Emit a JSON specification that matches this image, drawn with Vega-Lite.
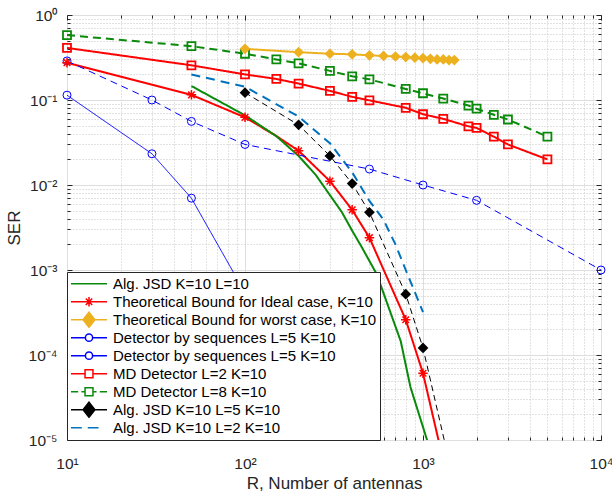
{
  "$schema": "https://vega.github.io/schema/vega-lite/v6.json",
  "width": 534,
  "height": 425,
  "autosize": {"type": "none"},
  "padding": {"left": 67, "top": 15, "right": 11, "bottom": 55},
  "background": "white",
  "config": {
    "font": "Liberation Sans",
    "view": {"stroke": "#262626", "strokeWidth": 1},
    "axis": {
      "domain": false,
      "labelFont": "Liberation Sans",
      "labelColor": "#262626",
      "tickColor": "#262626",
      "tickWidth": 1,
      "titleFont": "Liberation Sans",
      "titleFontWeight": "normal",
      "titleColor": "#262626",
      "labelFlush": false,
      "labelOverlap": false,
      "labelBound": false
    },
    "legend": {
      "orient": "bottom-left",
      "offset": 0,
      "padding": 3,
      "fillColor": "white",
      "strokeColor": "#262626",
      "strokeWidth": 1,
      "symbolSize": 1296,
      "clipHeight": 17.4,
      "rowPadding": 0,
      "labelFont": "Liberation Sans",
      "labelFontSize": 15,
      "labelColor": "#000000",
      "labelOffset": 5,
      "labelLimit": 400,
      "symbolStrokeWidth": 1.5,
      "symbolOpacity": 1
    }
  },
  "data": {
    "values": [
      {"series": "MD Detector L=8 K=10", "R": 10, "SER": 0.58},
      {"series": "MD Detector L=8 K=10", "R": 50, "SER": 0.43},
      {"series": "MD Detector L=8 K=10", "R": 100, "SER": 0.35},
      {"series": "MD Detector L=8 K=10", "R": 150, "SER": 0.30},
      {"series": "MD Detector L=8 K=10", "R": 200, "SER": 0.27},
      {"series": "MD Detector L=8 K=10", "R": 300, "SER": 0.22},
      {"series": "MD Detector L=8 K=10", "R": 400, "SER": 0.19},
      {"series": "MD Detector L=8 K=10", "R": 500, "SER": 0.175},
      {"series": "MD Detector L=8 K=10", "R": 800, "SER": 0.135},
      {"series": "MD Detector L=8 K=10", "R": 1000, "SER": 0.12},
      {"series": "MD Detector L=8 K=10", "R": 1300, "SER": 0.104},
      {"series": "MD Detector L=8 K=10", "R": 1800, "SER": 0.086},
      {"series": "MD Detector L=8 K=10", "R": 2000, "SER": 0.079},
      {"series": "MD Detector L=8 K=10", "R": 2500, "SER": 0.067},
      {"series": "MD Detector L=8 K=10", "R": 3000, "SER": 0.059},
      {"series": "MD Detector L=8 K=10", "R": 5000, "SER": 0.037},
      {"series": "MD Detector L=2 K=10", "R": 10, "SER": 0.41},
      {"series": "MD Detector L=2 K=10", "R": 50, "SER": 0.256},
      {"series": "MD Detector L=2 K=10", "R": 100, "SER": 0.20},
      {"series": "MD Detector L=2 K=10", "R": 150, "SER": 0.177},
      {"series": "MD Detector L=2 K=10", "R": 200, "SER": 0.156},
      {"series": "MD Detector L=2 K=10", "R": 300, "SER": 0.128},
      {"series": "MD Detector L=2 K=10", "R": 400, "SER": 0.109},
      {"series": "MD Detector L=2 K=10", "R": 500, "SER": 0.099},
      {"series": "MD Detector L=2 K=10", "R": 800, "SER": 0.081},
      {"series": "MD Detector L=2 K=10", "R": 1000, "SER": 0.068},
      {"series": "MD Detector L=2 K=10", "R": 1300, "SER": 0.060},
      {"series": "MD Detector L=2 K=10", "R": 1800, "SER": 0.049},
      {"series": "MD Detector L=2 K=10", "R": 2000, "SER": 0.047},
      {"series": "MD Detector L=2 K=10", "R": 2500, "SER": 0.037},
      {"series": "MD Detector L=2 K=10", "R": 3000, "SER": 0.030},
      {"series": "MD Detector L=2 K=10", "R": 5000, "SER": 0.020},
      {"series": "Theoretical Bound for worst case, K=10", "R": 100, "SER": 0.40},
      {"series": "Theoretical Bound for worst case, K=10", "R": 200, "SER": 0.365},
      {"series": "Theoretical Bound for worst case, K=10", "R": 300, "SER": 0.35},
      {"series": "Theoretical Bound for worst case, K=10", "R": 400, "SER": 0.345},
      {"series": "Theoretical Bound for worst case, K=10", "R": 500, "SER": 0.335},
      {"series": "Theoretical Bound for worst case, K=10", "R": 600, "SER": 0.33},
      {"series": "Theoretical Bound for worst case, K=10", "R": 700, "SER": 0.325},
      {"series": "Theoretical Bound for worst case, K=10", "R": 800, "SER": 0.32},
      {"series": "Theoretical Bound for worst case, K=10", "R": 900, "SER": 0.315},
      {"series": "Theoretical Bound for worst case, K=10", "R": 1000, "SER": 0.31},
      {"series": "Theoretical Bound for worst case, K=10", "R": 1100, "SER": 0.305},
      {"series": "Theoretical Bound for worst case, K=10", "R": 1200, "SER": 0.30},
      {"series": "Theoretical Bound for worst case, K=10", "R": 1300, "SER": 0.30},
      {"series": "Theoretical Bound for worst case, K=10", "R": 1400, "SER": 0.295},
      {"series": "Theoretical Bound for worst case, K=10", "R": 1500, "SER": 0.295},
      {"series": "Detector by sequences L=5 K=10", "R": 10, "SER": 0.114},
      {"series": "Detector by sequences L=5 K=10", "R": 30, "SER": 0.0233},
      {"series": "Detector by sequences L=5 K=10", "R": 50, "SER": 0.0070},
      {"series": "Detector by sequences L=5 K=10", "R": 100, "SER": 0.00054},
      {"series": "Detector by sequences L=5 K=10 ", "R": 10, "SER": 0.288},
      {"series": "Detector by sequences L=5 K=10 ", "R": 30, "SER": 0.1},
      {"series": "Detector by sequences L=5 K=10 ", "R": 50, "SER": 0.056},
      {"series": "Detector by sequences L=5 K=10 ", "R": 100, "SER": 0.030},
      {"series": "Detector by sequences L=5 K=10 ", "R": 500, "SER": 0.0154},
      {"series": "Detector by sequences L=5 K=10 ", "R": 1000, "SER": 0.010},
      {"series": "Detector by sequences L=5 K=10 ", "R": 2000, "SER": 0.0066},
      {"series": "Detector by sequences L=5 K=10 ", "R": 10000, "SER": 0.001},
      {"series": "Theoretical Bound for Ideal case, K=10", "R": 10, "SER": 0.275},
      {"series": "Theoretical Bound for Ideal case, K=10", "R": 50, "SER": 0.115},
      {"series": "Theoretical Bound for Ideal case, K=10", "R": 100, "SER": 0.0625},
      {"series": "Theoretical Bound for Ideal case, K=10", "R": 150, "SER": 0.0377},
      {"series": "Theoretical Bound for Ideal case, K=10", "R": 200, "SER": 0.0253},
      {"series": "Theoretical Bound for Ideal case, K=10", "R": 300, "SER": 0.0111},
      {"series": "Theoretical Bound for Ideal case, K=10", "R": 400, "SER": 0.0051},
      {"series": "Theoretical Bound for Ideal case, K=10", "R": 500, "SER": 0.0024},
      {"series": "Theoretical Bound for Ideal case, K=10", "R": 800, "SER": 0.00026},
      {"series": "Theoretical Bound for Ideal case, K=10", "R": 1000, "SER": 0.000061},
      {"series": "Theoretical Bound for Ideal case, K=10", "R": 1300, "SER": 0.0000057},
      {"series": "Alg. JSD K=10 L=10", "R": 50, "SER": 0.146},
      {"series": "Alg. JSD K=10 L=10", "R": 100, "SER": 0.066},
      {"series": "Alg. JSD K=10 L=10", "R": 150, "SER": 0.0375},
      {"series": "Alg. JSD K=10 L=10", "R": 200, "SER": 0.022},
      {"series": "Alg. JSD K=10 L=10", "R": 250, "SER": 0.0131},
      {"series": "Alg. JSD K=10 L=10", "R": 300, "SER": 0.0076},
      {"series": "Alg. JSD K=10 L=10", "R": 350, "SER": 0.0048},
      {"series": "Alg. JSD K=10 L=10", "R": 400, "SER": 0.0029},
      {"series": "Alg. JSD K=10 L=10", "R": 450, "SER": 0.0019},
      {"series": "Alg. JSD K=10 L=10", "R": 550, "SER": 0.00089},
      {"series": "Alg. JSD K=10 L=10", "R": 750, "SER": 0.000145},
      {"series": "Alg. JSD K=10 L=10", "R": 850, "SER": 0.000042},
      {"series": "Alg. JSD K=10 L=10", "R": 1100, "SER": 0.0000075},
      {"series": "Alg. JSD K=10 L=5 K=10", "R": 100, "SER": 0.122},
      {"series": "Alg. JSD K=10 L=5 K=10", "R": 200, "SER": 0.051},
      {"series": "Alg. JSD K=10 L=5 K=10", "R": 300, "SER": 0.022},
      {"series": "Alg. JSD K=10 L=5 K=10", "R": 400, "SER": 0.0104},
      {"series": "Alg. JSD K=10 L=5 K=10", "R": 500, "SER": 0.00477},
      {"series": "Alg. JSD K=10 L=5 K=10", "R": 800, "SER": 0.00052},
      {"series": "Alg. JSD K=10 L=5 K=10", "R": 1000, "SER": 0.000121},
      {"series": "Alg. JSD K=10 L=5 K=10", "R": 1400, "SER": 0.0000057},
      {"series": "Alg. JSD K=10 L=2 K=10", "R": 50, "SER": 0.20},
      {"series": "Alg. JSD K=10 L=2 K=10", "R": 100, "SER": 0.143},
      {"series": "Alg. JSD K=10 L=2 K=10", "R": 200, "SER": 0.064},
      {"series": "Alg. JSD K=10 L=2 K=10", "R": 300, "SER": 0.031},
      {"series": "Alg. JSD K=10 L=2 K=10", "R": 400, "SER": 0.0141},
      {"series": "Alg. JSD K=10 L=2 K=10", "R": 500, "SER": 0.0065},
      {"series": "Alg. JSD K=10 L=2 K=10", "R": 600, "SER": 0.0039},
      {"series": "Alg. JSD K=10 L=2 K=10", "R": 700, "SER": 0.0020},
      {"series": "Alg. JSD K=10 L=2 K=10", "R": 800, "SER": 0.0010},
      {"series": "Alg. JSD K=10 L=2 K=10", "R": 1000, "SER": 0.00032}
    ]
  },
  "resolve": {"axis": {"x": "independent", "y": "independent"}},
  "layer": [
    {
      "transform": [{"filter": {"field": "series", "oneOf": ["Alg. JSD K=10 L=10", "Theoretical Bound for Ideal case, K=10", "Theoretical Bound for worst case, K=10", "MD Detector L=2 K=10", "MD Detector L=8 K=10", "Alg. JSD K=10 L=2 K=10"]}}],
      "mark": {"type": "line", "strokeWidth": 2, "clip": true},
      "encoding": {
        "x": {"field": "R", "type": "quantitative",
          "scale": {"type": "log", "domain": [10, 10000], "nice": false},
          "axis": {"orient": "bottom", "values": [10, 100, 1000, 10000],
            "labelExpr": "datum.value < 50 ? '10¹' : datum.value < 500 ? '10²' : datum.value < 5000 ? '10³' : '10⁴'",
            "grid": true, "gridColor": "#dedede", "gridWidth": 1,
            "tickSize": -5, "labelPadding": 21, "labelBaseline": "top", "labelFontSize": 15.5,
            "title": "R, Number of antennas", "titleFontSize": 17, "titlePadding": 4}},
        "y": {"field": "SER", "type": "quantitative",
          "scale": {"type": "log", "domain": [0.00001, 1], "nice": false},
          "axis": {"orient": "left", "values": [0.00001, 0.0001, 0.001, 0.01, 0.1, 1],
            "labelExpr": "datum.value > 0.5 ? '10⁰' : datum.value > 0.05 ? '10⁻¹' : datum.value > 0.005 ? '10⁻²' : datum.value > 0.0005 ? '10⁻³' : datum.value > 0.00005 ? '10⁻⁴' : '10⁻⁵'",
            "grid": true, "gridColor": "#dedede", "gridWidth": 1,
            "tickSize": -5, "labelPadding": 15, "labelFontSize": 15.5, "labelDy": 2,
            "title": "SER", "titleFontSize": 17, "titlePadding": 5}},
        "color": {"field": "series", "type": "nominal", "legend": null,
          "scale": {"domain": ["Alg. JSD K=10 L=2 K=10", "Alg. JSD K=10 L=5 K=10", "MD Detector L=8 K=10", "MD Detector L=2 K=10", "Detector by sequences L=5 K=10 ", "Detector by sequences L=5 K=10", "Theoretical Bound for worst case, K=10", "Theoretical Bound for Ideal case, K=10", "Alg. JSD K=10 L=10"],
            "range": ["#0072bd", "#000000", "#0a8a0a", "#ff0000", "#0000ff", "#0000ff", "#edb120", "#ff0000", "#0a8a0a"]}},
        "strokeDash": {"field": "series", "type": "nominal", "legend": null,
          "scale": {"domain": ["Alg. JSD K=10 L=2 K=10", "Alg. JSD K=10 L=5 K=10", "MD Detector L=8 K=10", "MD Detector L=2 K=10", "Detector by sequences L=5 K=10 ", "Detector by sequences L=5 K=10", "Theoretical Bound for worst case, K=10", "Theoretical Bound for Ideal case, K=10", "Alg. JSD K=10 L=10"],
            "range": [[9, 6], [6, 4], [8, 5], [1, 0], [7, 5], [1, 0], [1, 0], [1, 0], [1, 0]]}}
      }
    },
    {
      "transform": [{"filter": {"field": "series", "oneOf": ["Detector by sequences L=5 K=10", "Detector by sequences L=5 K=10 ", "Alg. JSD K=10 L=5 K=10"]}}],
      "mark": {"type": "line", "strokeWidth": 1, "clip": true},
      "encoding": {
        "x": {"field": "R", "type": "quantitative",
          "scale": {"type": "log", "domain": [10, 10000], "nice": false},
          "axis": {"orient": "bottom", "values": [20, 30, 40, 50, 60, 70, 80, 90, 200, 300, 400, 500, 600, 700, 800, 900, 2000, 3000, 4000, 5000, 6000, 7000, 8000, 9000],
            "grid": true, "gridColor": "#c4c4c4", "gridDash": [1, 2], "gridWidth": 1,
            "tickSize": -3, "labels": false, "title": null}},
        "y": {"field": "SER", "type": "quantitative",
          "scale": {"type": "log", "domain": [0.00001, 1], "nice": false},
          "axis": {"orient": "left", "values": [0.00002, 0.00003, 0.00004, 0.00005, 0.00006, 0.00007, 0.00008, 0.00009, 0.0002, 0.0003, 0.0004, 0.0005, 0.0006, 0.0007, 0.0008, 0.0009, 0.002, 0.003, 0.004, 0.005, 0.006, 0.007, 0.008, 0.009, 0.02, 0.03, 0.04, 0.05, 0.06, 0.07, 0.08, 0.09, 0.2, 0.3, 0.4, 0.5, 0.6, 0.7, 0.8, 0.9],
            "grid": true, "gridColor": "#c4c4c4", "gridDash": [1, 2], "gridWidth": 1,
            "tickSize": -3, "labels": false, "title": null}},
        "color": {"field": "series", "type": "nominal", "legend": null,
          "scale": {"domain": ["Alg. JSD K=10 L=2 K=10", "Alg. JSD K=10 L=5 K=10", "MD Detector L=8 K=10", "MD Detector L=2 K=10", "Detector by sequences L=5 K=10 ", "Detector by sequences L=5 K=10", "Theoretical Bound for worst case, K=10", "Theoretical Bound for Ideal case, K=10", "Alg. JSD K=10 L=10"],
            "range": ["#0072bd", "#000000", "#0a8a0a", "#ff0000", "#0000ff", "#0000ff", "#edb120", "#ff0000", "#0a8a0a"]}},
        "strokeDash": {"field": "series", "type": "nominal", "legend": null,
          "scale": {"domain": ["Alg. JSD K=10 L=2 K=10", "Alg. JSD K=10 L=5 K=10", "MD Detector L=8 K=10", "MD Detector L=2 K=10", "Detector by sequences L=5 K=10 ", "Detector by sequences L=5 K=10", "Theoretical Bound for worst case, K=10", "Theoretical Bound for Ideal case, K=10", "Alg. JSD K=10 L=10"],
            "range": [[9, 6], [6, 4], [8, 5], [1, 0], [7, 5], [1, 0], [1, 0], [1, 0], [1, 0]]}}
      }
    },
    {
      "transform": [{"filter": {"field": "series", "oneOf": ["MD Detector L=2 K=10", "MD Detector L=8 K=10"]}}],
      "mark": {"type": "point", "shape": "square", "filled": false, "size": 64, "strokeWidth": 1.8, "opacity": 1},
      "encoding": {
        "x": {"field": "R", "type": "quantitative",
          "scale": {"type": "log", "domain": [10, 10000], "nice": false},
          "axis": {"orient": "top", "values": [10, 100, 1000, 10000], "grid": false, "tickSize": -5, "labels": false, "title": null}},
        "y": {"field": "SER", "type": "quantitative",
          "scale": {"type": "log", "domain": [0.00001, 1], "nice": false},
          "axis": {"orient": "right", "values": [0.00001, 0.0001, 0.001, 0.01, 0.1, 1], "grid": false, "tickSize": -5, "labels": false, "title": null}},
        "color": {"field": "series", "type": "nominal", "legend": null,
          "scale": {"domain": ["Alg. JSD K=10 L=2 K=10", "Alg. JSD K=10 L=5 K=10", "MD Detector L=8 K=10", "MD Detector L=2 K=10", "Detector by sequences L=5 K=10 ", "Detector by sequences L=5 K=10", "Theoretical Bound for worst case, K=10", "Theoretical Bound for Ideal case, K=10", "Alg. JSD K=10 L=10"],
            "range": ["#0072bd", "#000000", "#0a8a0a", "#ff0000", "#0000ff", "#0000ff", "#edb120", "#ff0000", "#0a8a0a"]}}
      }
    },
    {
      "transform": [
        {"filter": {"field": "series", "oneOf": ["Theoretical Bound for worst case, K=10", "Alg. JSD K=10 L=5 K=10"]}},
        {"filter": {"field": "SER", "gte": 0.00001}}
      ],
      "mark": {"type": "point", "shape": "diamond", "filled": true, "size": 115, "opacity": 1},
      "encoding": {
        "x": {"field": "R", "type": "quantitative",
          "scale": {"type": "log", "domain": [10, 10000], "nice": false},
          "axis": {"orient": "top", "values": [20, 30, 40, 50, 60, 70, 80, 90, 200, 300, 400, 500, 600, 700, 800, 900, 2000, 3000, 4000, 5000, 6000, 7000, 8000, 9000], "grid": false, "tickSize": -3, "labels": false, "title": null}},
        "y": {"field": "SER", "type": "quantitative",
          "scale": {"type": "log", "domain": [0.00001, 1], "nice": false},
          "axis": {"orient": "right", "values": [0.00002, 0.00003, 0.00004, 0.00005, 0.00006, 0.00007, 0.00008, 0.00009, 0.0002, 0.0003, 0.0004, 0.0005, 0.0006, 0.0007, 0.0008, 0.0009, 0.002, 0.003, 0.004, 0.005, 0.006, 0.007, 0.008, 0.009, 0.02, 0.03, 0.04, 0.05, 0.06, 0.07, 0.08, 0.09, 0.2, 0.3, 0.4, 0.5, 0.6, 0.7, 0.8, 0.9], "grid": false, "tickSize": -3, "labels": false, "title": null}},
        "color": {"field": "series", "type": "nominal", "legend": null,
          "scale": {"domain": ["Alg. JSD K=10 L=2 K=10", "Alg. JSD K=10 L=5 K=10", "MD Detector L=8 K=10", "MD Detector L=2 K=10", "Detector by sequences L=5 K=10 ", "Detector by sequences L=5 K=10", "Theoretical Bound for worst case, K=10", "Theoretical Bound for Ideal case, K=10", "Alg. JSD K=10 L=10"],
            "range": ["#0072bd", "#000000", "#0a8a0a", "#ff0000", "#0000ff", "#0000ff", "#edb120", "#ff0000", "#0a8a0a"]}}
      }
    },
    {
      "transform": [{"filter": {"field": "series", "oneOf": ["Detector by sequences L=5 K=10", "Detector by sequences L=5 K=10 "]}}],
      "mark": {"type": "point", "shape": "circle", "filled": false, "size": 64, "strokeWidth": 1, "stroke": "#0000ff", "opacity": 1},
      "encoding": {
        "x": {"field": "R", "type": "quantitative", "scale": {"type": "log", "domain": [10, 10000], "nice": false}, "axis": null},
        "y": {"field": "SER", "type": "quantitative", "scale": {"type": "log", "domain": [0.00001, 1], "nice": false}, "axis": null}
      }
    },
    {
      "transform": [
        {"filter": {"field": "series", "equal": "Theoretical Bound for Ideal case, K=10"}},
        {"filter": {"not": {"field": "R", "equal": 150}}},
        {"filter": {"field": "SER", "gte": 0.00001}}
      ],
      "mark": {"type": "point", "shape": "M-1,0H1M0,-1V1M-0.7,-0.7L0.7,0.7M-0.7,0.7L0.7,-0.7", "filled": false, "size": 90, "strokeWidth": 1.5, "stroke": "#ff0000", "opacity": 1},
      "encoding": {
        "x": {"field": "R", "type": "quantitative", "scale": {"type": "log", "domain": [10, 10000], "nice": false}, "axis": null},
        "y": {"field": "SER", "type": "quantitative", "scale": {"type": "log", "domain": [0.00001, 1], "nice": false}, "axis": null}
      }
    },
    {
      "transform": [{"filter": "false"}],
      "mark": {"type": "point", "filled": false, "opacity": 1},
      "encoding": {
        "stroke": {"field": "series", "type": "nominal", "legend": {"title": null},
          "scale": {"domain": ["Alg. JSD K=10 L=10", "Theoretical Bound for Ideal case, K=10", "Theoretical Bound for worst case, K=10", "Detector by sequences L=5 K=10", "Detector by sequences L=5 K=10 ", "MD Detector L=2 K=10", "MD Detector L=8 K=10", "Alg. JSD K=10 L=5 K=10", "Alg. JSD K=10 L=2 K=10"],
            "range": ["#0a8a0a", "#ff0000", "#edb120", "#0000ff", "#0000ff", "#ff0000", "#0a8a0a", "#000000", "#0072bd"]}},
        "fill": {"field": "series", "type": "nominal", "legend": {"title": null},
          "scale": {"domain": ["Alg. JSD K=10 L=10", "Theoretical Bound for Ideal case, K=10", "Theoretical Bound for worst case, K=10", "Detector by sequences L=5 K=10", "Detector by sequences L=5 K=10 ", "MD Detector L=2 K=10", "MD Detector L=8 K=10", "Alg. JSD K=10 L=5 K=10", "Alg. JSD K=10 L=2 K=10"],
            "range": ["transparent", "transparent", "#edb120", "transparent", "transparent", "transparent", "transparent", "#000000", "transparent"]}},
        "shape": {"field": "series", "type": "nominal", "legend": {"title": null},
          "scale": {"domain": ["Alg. JSD K=10 L=10", "Theoretical Bound for Ideal case, K=10", "Theoretical Bound for worst case, K=10", "Detector by sequences L=5 K=10", "Detector by sequences L=5 K=10 ", "MD Detector L=2 K=10", "MD Detector L=8 K=10", "Alg. JSD K=10 L=5 K=10", "Alg. JSD K=10 L=2 K=10"],
            "range": [
              "M-1,0H1",
              "M-1,0H1M-0.26,0H0.26M0,-0.26V0.26M-0.18,-0.18L0.18,0.18M-0.18,0.18L0.18,-0.18",
              "M-1,0H-0.33M0.33,0H1M0,-0.42L0.33,0L0,0.42L-0.33,0Z",
              "M-1,0H-0.2M0.2,0H1M-0.2,0A0.2,0.2,0,1,0,0.2,0A0.2,0.2,0,1,0,-0.2,0",
              "M-1,0H-0.2M0.2,0H1M-0.2,0A0.2,0.2,0,1,0,0.2,0A0.2,0.2,0,1,0,-0.2,0",
              "M-1,0H-0.22M0.22,0H1M-0.22,-0.22H0.22V0.22H-0.22Z",
              "M-1,0H-0.6M-0.42,0H-0.22M0.22,0H0.42M0.6,0H1M-0.22,-0.22H0.22V0.22H-0.22Z",
              "M-1,0H1M0,-0.42L0.33,0L0,0.42L-0.33,0Z",
              "M-1,0H-0.4M-0.07,0H0.53"
            ]}}
      }
    }
  ]
}
